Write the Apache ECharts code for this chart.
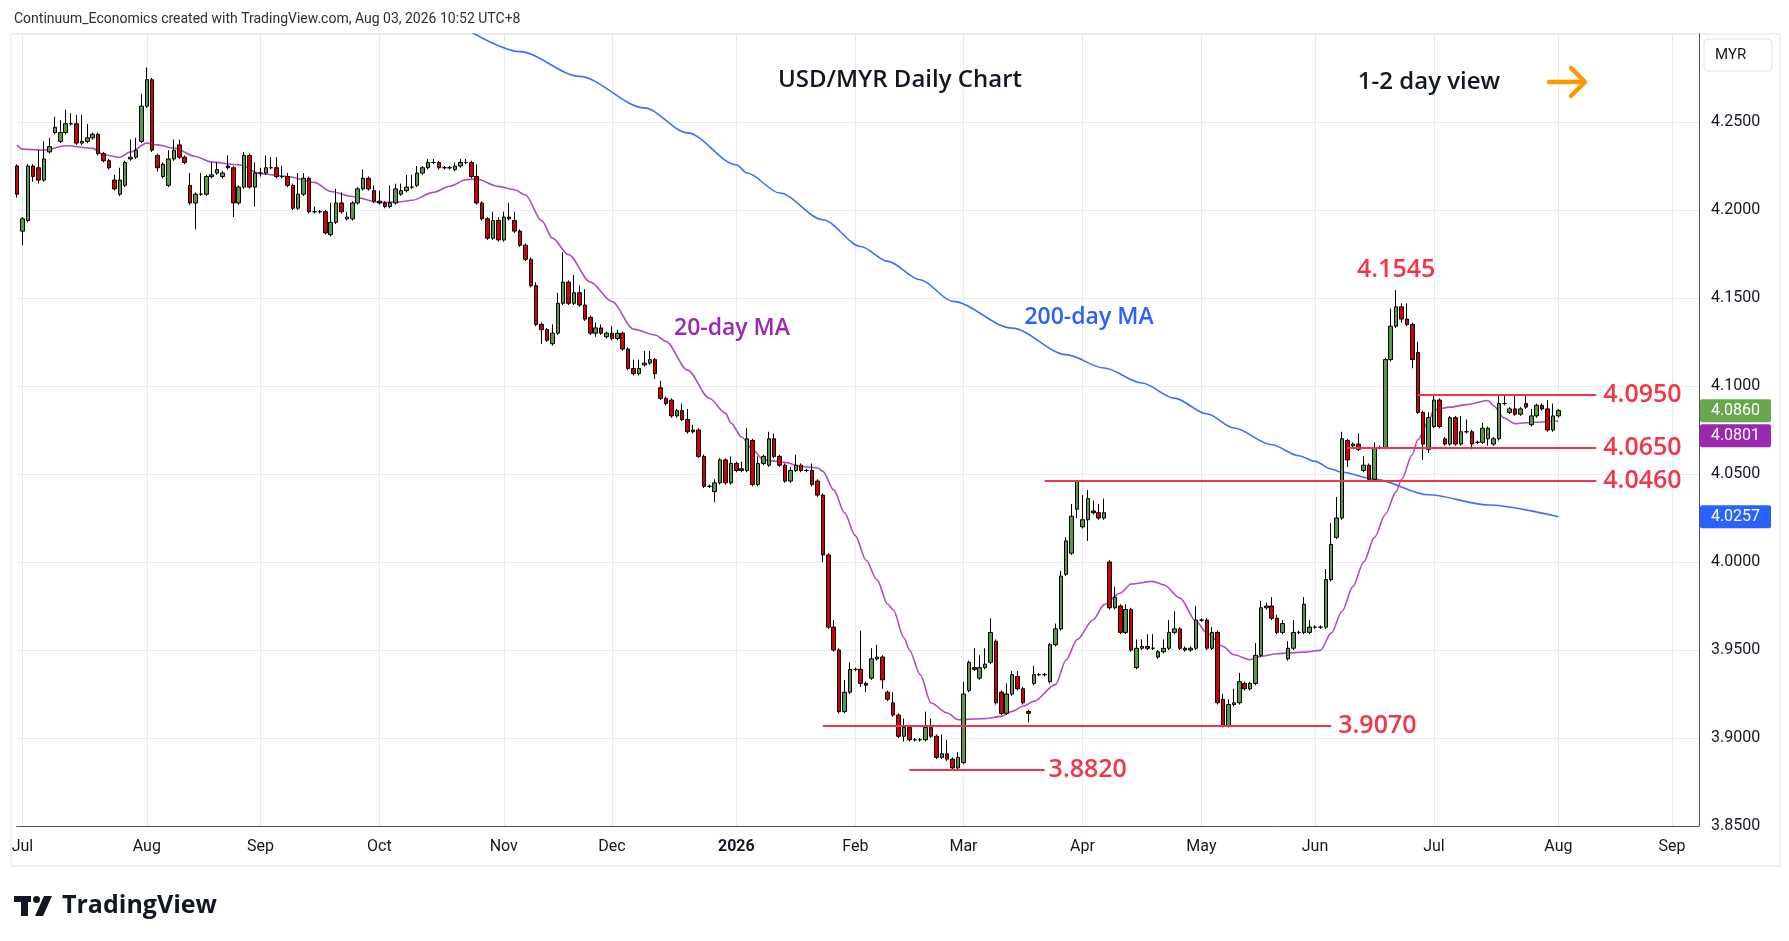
<!DOCTYPE html>
<html>
<head>
<meta charset="utf-8">
<title>USD/MYR Daily Chart</title>
<script src="https://cdn.jsdelivr.net/npm/echarts@6/dist/echarts.min.js"></script>
<style>
  html, body { margin: 0; padding: 0; background: #ffffff; }
  #main { width: 1789px; height: 941px; }
</style>
</head>
<body>
<div id="main"></div>
<script>
// daily candles, 30 Jun 2025 .. 3 Aug 2026 (weekdays)
var opens = [
  4.225,4.188,4.194,4.225,4.224,4.217,4.233,4.244,4.239,4.244,
  4.249,4.249,4.238,4.239,4.241,4.243,4.232,4.228,4.217,4.209,
  4.214,4.229,4.230,4.239,4.259,4.274,4.231,4.219,4.214,4.229,
  4.237,4.230,4.214,4.204,4.209,4.209,4.219,4.221,4.219,4.225,
  4.224,4.204,4.213,4.231,4.213,4.221,4.221,4.224,4.224,4.219,
  4.219,4.214,4.201,4.209,4.218,4.199,4.199,4.199,4.186,4.193,
  4.204,4.195,4.195,4.204,4.212,4.218,4.211,4.205,4.204,4.202,
  4.204,4.209,4.211,4.213,4.214,4.221,4.224,4.227,4.227,4.224,
  4.224,4.223,4.225,4.227,4.227,4.219,4.204,4.195,4.184,4.194,
  4.183,4.196,4.194,4.188,4.180,4.172,4.157,4.135,4.132,4.124,
  4.130,4.147,4.159,4.147,4.153,4.146,4.139,4.130,4.133,4.128,
  4.130,4.127,4.130,4.121,4.110,4.107,4.112,4.113,4.115,4.099,
  4.093,4.092,4.083,4.086,4.081,4.074,4.075,4.060,4.043,4.040,
  4.045,4.058,4.045,4.056,4.053,4.052,4.069,4.044,4.056,4.055,
  4.070,4.060,4.055,4.046,4.052,4.055,4.052,4.052,4.046,4.038,
  4.004,3.963,3.950,3.915,3.926,3.939,3.939,3.931,3.934,3.945,
  3.946,3.926,3.920,3.913,3.901,3.906,3.899,3.899,3.899,3.906,
  3.901,3.889,3.891,3.888,3.883,3.886,3.927,3.940,3.934,3.940,
  3.943,3.955,3.926,3.914,3.925,3.935,3.928,3.915,3.931,3.936,
  3.936,3.932,3.953,3.962,3.993,4.005,4.030,4.020,4.024,4.029,
  4.028,4.025,4.000,3.974,3.975,3.960,3.973,3.940,3.951,3.952,
  3.951,3.946,3.949,3.951,3.960,3.962,3.951,3.950,3.951,3.967,
  3.967,3.951,3.960,3.922,3.907,3.919,3.920,3.931,3.928,3.931,
  3.947,3.974,3.975,3.968,3.960,3.945,3.951,3.960,3.960,3.960,
  3.963,3.963,3.963,3.990,4.014,4.025,4.069,4.066,4.067,4.052,
  4.055,4.047,4.065,4.065,4.115,4.134,4.145,4.138,4.135,4.119,
  4.085,4.064,4.077,4.092,4.070,4.067,4.082,4.067,4.074,4.074,
  4.068,4.068,4.070,4.067,4.070,4.090,4.085,4.087,4.084,4.090,
  4.078,4.083,4.089,4.087,4.075,4.083
];
var closes = [
  4.209,4.195,4.225,4.219,4.217,4.229,4.236,4.247,4.244,4.249,
  4.249,4.238,4.239,4.241,4.243,4.232,4.228,4.224,4.212,4.217,
  4.227,4.230,4.234,4.259,4.274,4.234,4.224,4.226,4.229,4.234,
  4.230,4.227,4.204,4.209,4.209,4.219,4.220,4.223,4.221,4.224,
  4.204,4.213,4.231,4.213,4.221,4.221,4.224,4.224,4.219,4.219,
  4.214,4.201,4.209,4.218,4.199,4.199,4.199,4.187,4.193,4.204,
  4.199,4.196,4.204,4.212,4.218,4.212,4.205,4.204,4.202,4.204,
  4.212,4.211,4.213,4.213,4.221,4.224,4.227,4.227,4.224,4.224,
  4.224,4.225,4.227,4.227,4.219,4.204,4.195,4.184,4.194,4.183,
  4.196,4.195,4.188,4.180,4.172,4.157,4.135,4.132,4.126,4.130,
  4.147,4.159,4.147,4.153,4.146,4.138,4.130,4.133,4.130,4.130,
  4.127,4.130,4.121,4.110,4.107,4.110,4.113,4.115,4.107,4.093,
  4.090,4.083,4.086,4.081,4.074,4.075,4.060,4.043,4.043,4.045,
  4.058,4.045,4.056,4.052,4.052,4.070,4.044,4.056,4.060,4.070,
  4.060,4.055,4.046,4.052,4.055,4.052,4.052,4.044,4.038,4.004,
  3.963,3.950,3.915,3.926,3.939,3.939,3.931,3.930,3.945,3.946,
  3.933,3.922,3.913,3.901,3.906,3.899,3.899,3.899,3.906,3.901,
  3.889,3.891,3.888,3.883,3.889,3.925,3.943,3.939,3.940,3.942,
  3.960,3.920,3.914,3.925,3.936,3.928,3.920,3.914,3.936,3.936,
  3.936,3.953,3.962,3.992,4.012,4.026,4.046,4.024,4.036,4.028,
  4.025,4.028,3.974,3.980,3.960,3.973,3.950,3.951,3.952,3.951,
  3.951,3.949,3.951,3.960,3.962,3.951,3.950,3.951,3.967,3.967,
  3.951,3.960,3.920,3.907,3.919,3.920,3.932,3.928,3.931,3.947,
  3.974,3.975,3.968,3.960,3.965,3.951,3.960,3.960,3.976,3.963,
  3.963,3.963,3.990,4.010,4.025,4.070,4.058,4.067,4.064,4.055,
  4.047,4.065,4.065,4.115,4.134,4.145,4.138,4.135,4.115,4.085,
  4.067,4.082,4.092,4.077,4.067,4.082,4.067,4.074,4.074,4.067,
  4.068,4.076,4.076,4.070,4.090,4.090,4.087,4.084,4.087,4.088,
  4.083,4.089,4.087,4.075,4.083,4.086
];
var lows = [
  4.207,4.180,4.193,4.216,4.215,4.216,4.232,4.243,4.238,4.243,
  4.248,4.237,4.237,4.238,4.240,4.231,4.227,4.223,4.211,4.208,
  4.213,4.228,4.229,4.238,4.258,4.233,4.222,4.218,4.213,4.228,
  4.229,4.226,4.203,4.189,4.208,4.208,4.218,4.220,4.218,4.223,
  4.196,4.203,4.212,4.212,4.202,4.219,4.220,4.223,4.218,4.218,
  4.213,4.200,4.200,4.208,4.198,4.198,4.198,4.186,4.185,4.192,
  4.198,4.194,4.194,4.203,4.211,4.211,4.204,4.203,4.201,4.201,
  4.203,4.208,4.210,4.212,4.213,4.220,4.223,4.226,4.223,4.223,
  4.223,4.222,4.224,4.226,4.218,4.203,4.194,4.183,4.183,4.182,
  4.182,4.194,4.187,4.179,4.171,4.156,4.134,4.124,4.125,4.123,
  4.129,4.146,4.146,4.146,4.145,4.137,4.129,4.128,4.129,4.127,
  4.126,4.126,4.120,4.109,4.106,4.106,4.111,4.112,4.104,4.092,
  4.089,4.082,4.082,4.080,4.073,4.073,4.059,4.042,4.042,4.034,
  4.044,4.044,4.044,4.051,4.051,4.051,4.043,4.043,4.055,4.054,
  4.059,4.054,4.045,4.045,4.051,4.051,4.051,4.043,4.037,4.000,
  3.962,3.949,3.914,3.914,3.925,3.938,3.929,3.926,3.933,3.944,
  3.928,3.921,3.912,3.900,3.898,3.898,3.898,3.898,3.898,3.900,
  3.888,3.888,3.887,3.882,3.882,3.885,3.926,3.938,3.933,3.939,
  3.942,3.919,3.913,3.913,3.924,3.927,3.919,3.909,3.930,3.935,
  3.935,3.931,3.952,3.961,3.992,4.004,4.025,4.019,4.012,4.027,
  4.024,4.024,3.973,3.973,3.959,3.959,3.949,3.939,3.950,3.950,
  3.950,3.945,3.948,3.950,3.959,3.950,3.949,3.949,3.950,3.966,
  3.950,3.950,3.919,3.906,3.906,3.918,3.919,3.927,3.927,3.930,
  3.946,3.973,3.967,3.959,3.959,3.944,3.950,3.959,3.959,3.959,
  3.962,3.962,3.962,3.989,4.013,4.024,4.054,4.065,4.063,4.051,
  4.046,4.046,4.064,4.064,4.114,4.133,4.136,4.134,4.110,4.084,
  4.058,4.062,4.076,4.076,4.066,4.066,4.066,4.066,4.073,4.064,
  4.067,4.067,4.066,4.066,4.069,4.089,4.084,4.083,4.083,4.087,
  4.077,4.082,4.086,4.074,4.074,4.082
];
var highs = [
  4.226,4.196,4.226,4.226,4.234,4.239,4.241,4.253,4.251,4.257,
  4.255,4.254,4.254,4.249,4.244,4.244,4.233,4.229,4.220,4.224,
  4.228,4.240,4.241,4.266,4.281,4.275,4.232,4.227,4.234,4.240,
  4.240,4.231,4.221,4.210,4.221,4.220,4.227,4.227,4.222,4.231,
  4.225,4.214,4.233,4.232,4.227,4.224,4.231,4.230,4.230,4.225,
  4.221,4.215,4.221,4.221,4.219,4.202,4.200,4.200,4.204,4.212,
  4.210,4.199,4.205,4.213,4.223,4.219,4.214,4.211,4.205,4.214,
  4.215,4.215,4.220,4.220,4.225,4.225,4.229,4.229,4.228,4.225,
  4.225,4.227,4.229,4.229,4.228,4.226,4.205,4.196,4.199,4.196,
  4.199,4.204,4.199,4.189,4.181,4.173,4.159,4.136,4.133,4.135,
  4.153,4.176,4.160,4.163,4.157,4.155,4.140,4.136,4.135,4.131,
  4.134,4.132,4.131,4.122,4.115,4.115,4.120,4.120,4.116,4.103,
  4.094,4.093,4.087,4.090,4.087,4.078,4.076,4.061,4.044,4.047,
  4.059,4.059,4.060,4.057,4.057,4.076,4.070,4.060,4.061,4.074,
  4.073,4.061,4.056,4.054,4.061,4.056,4.053,4.056,4.047,4.039,
  4.005,3.967,3.951,3.933,3.943,3.940,3.961,3.932,3.951,3.953,
  3.947,3.927,3.926,3.914,3.911,3.907,3.900,3.900,3.915,3.911,
  3.902,3.902,3.899,3.889,3.892,3.932,3.944,3.951,3.947,3.951,
  3.968,3.956,3.927,3.931,3.938,3.938,3.929,3.916,3.941,3.937,
  3.937,3.954,3.965,3.995,4.014,4.033,4.046,4.038,4.041,4.035,
  4.033,4.036,4.001,3.986,3.976,3.976,3.974,3.956,3.956,3.959,
  3.959,3.950,3.956,3.967,3.972,3.963,3.952,3.952,3.975,3.968,
  3.968,3.963,3.961,3.925,3.922,3.928,3.937,3.932,3.932,3.954,
  3.978,3.977,3.980,3.970,3.967,3.955,3.967,3.961,3.980,3.967,
  3.964,3.964,3.996,4.022,4.037,4.074,4.070,4.068,4.073,4.060,
  4.056,4.068,4.066,4.116,4.144,4.1545,4.147,4.147,4.136,4.125,
  4.086,4.085,4.095,4.093,4.071,4.083,4.083,4.083,4.081,4.075,
  4.069,4.079,4.077,4.071,4.095,4.095,4.088,4.095,4.088,4.095,
  4.087,4.090,4.090,4.092,4.090,4.087
];

// moving averages (bar index, value)
var ma20Idx = [0,1,5,9,14,16,19,21,24,26,29,33,36,41,45,50,55,58,62,67,71,73,77,80,83,85,89,92,94,97,
  99,102,106,110,114,118,120,124,128,131,132,134,136,138,142,145,148,149,151,153,155,157,159,161,162,164,165,167,169,172,
  174,177,179,182,184,186,188,192,194,196,199,201,204,206,210,212,215,218,220,223,225,228,230,233,238,241,243,245,247,249,
  251,253,255,256,258,259,261,262,265,268,272,273,275,277,280,285];
var ma20Val = [4.237,4.2346,4.234,4.2365,4.235,4.2314,4.230,4.233,4.238,4.237,4.2352,4.2304,4.2272,4.2257,4.2206,4.219,4.2157,4.2105,4.2077,4.2043,4.2047,4.2055,4.210,4.2135,4.2172,4.2176,4.2134,4.2115,4.2085,4.194,
  4.184,4.1746,4.159,4.148,4.1323,4.129,4.1253,4.109,4.093,4.0846,4.079,4.071,4.064,4.058,4.0566,4.0543,4.0534,4.0515,4.041,4.028,4.015,4.001,3.990,3.976,3.9729,3.957,3.950,3.936,3.9199,3.9142,
  3.9104,3.9108,3.911,3.9123,3.9151,3.918,3.9208,3.9303,3.9445,3.9559,3.9672,3.9758,3.9824,3.9875,3.989,3.9871,3.9796,3.9663,3.9596,3.952,3.9473,3.9445,3.9464,3.9479,3.9488,3.9498,3.9596,3.972,3.986,4.000,
  4.014,4.027,4.040,4.047,4.061,4.0695,4.080,4.0865,4.088,4.0894,4.0918,4.0888,4.0818,4.0786,4.0793,4.0801];
var ma200Idx = [84,93,104,116,124,133,135,141,149,156,161,167,173,184,194,201,208,214,220,225,232,237,240,243,245,251,261,272,285];
var ma200Val = [4.3010,4.290,4.2759,4.258,4.2438,4.2257,4.221,4.2097,4.1945,4.1793,4.1708,4.1604,4.1481,4.1329,4.1178,4.1102,4.1017,4.0931,4.0842,4.0761,4.0666,4.0604,4.0572,4.0528,4.051,4.0471,4.0382,4.0324,4.0257];

// horizontal levels (value, first bar, last bar)
var levelValues = [4.0950, 4.0650, 4.0460, 3.9070, 3.8820];
var levelFrom = [259, 246, 190, 149, 165];
var levelTo = [292, 292, 292, 243, 190];
var peakValue = 4.1545, peakIdx = 255;

var monthNames = ['Jan','Feb','Mar','Apr','May','Jun','Jul','Aug','Sep','Oct','Nov','Dec'];

// weekday categories, extended past the last bar
var dates = [];
(function () {
  var d = new Date(Date.UTC(2025, 5, 30));
  while (dates.length < 312) {
    var wd = d.getUTCDay();
    if (wd !== 0 && wd !== 6) dates.push(d.toISOString().slice(0, 10));
    d.setUTCDate(d.getUTCDate() + 1);
  }
})();
var monthStart = {};
for (var i = 1; i < dates.length; i++) {
  if (dates[i].slice(5, 7) !== dates[i - 1].slice(5, 7)) monthStart[i] = true;
}

var candles = [];
for (var k = 0; k < opens.length; k++) {
  candles.push([opens[k], closes[k], lows[k], highs[k]]);
}
function pairs(idx, val) {
  var out = [];
  for (var j = 0; j < idx.length; j++) out.push([idx[j], val[j]]);
  return out;
}

var RED = '#f23645';
var FONT = '"Open Sans", "Noto Sans", sans-serif';
var levelLines = levelValues.map(function (v, n) {
  return [
    { coord: [levelFrom[n], v],
      label: { show: true, position: 'end', distance: n === 4 ? 4 : 7,
        formatter: v.toFixed(4), color: RED, fontSize: 25, fontWeight: 600, fontFamily: FONT,
        padding: n === 4 ? [0, 0, 20, 0] : 0 } },
    { coord: [levelTo[n], v] }
  ];
});

var chart = echarts.init(document.getElementById('main'));
var option = {
  animation: false,
  backgroundColor: '#ffffff',
  grid: { left: 17, right: 90, top: 34, bottom: 115, containLabel: false },
  xAxis: {
    type: 'category',
    data: dates,
    boundaryGap: false,
    axisLine: { show: true, lineStyle: { color: '#50535e', width: 1 } },
    axisTick: { show: false },
    axisLabel: {
      interval: function (index) { return !!monthStart[index]; },
      formatter: function (value) {
        var m = parseInt(value.slice(5, 7), 10) - 1;
        return m === 0 ? '{b|' + value.slice(0, 4) + '}' : monthNames[m];
      },
      color: '#131722', fontSize: 16, fontFamily: 'Roboto, sans-serif', margin: 13,
      rich: { b: { fontWeight: 'bold', fontSize: 16, color: '#131722', fontFamily: 'Roboto, sans-serif' } }
    },
    splitLine: {
      show: true,
      interval: function (index) { return !!monthStart[index]; },
      lineStyle: { color: '#e6ecf2', width: 1 }
    }
  },
  yAxis: {
    type: 'value',
    position: 'right',
    min: 3.85, max: 4.30, interval: 0.05,
    axisLine: { show: true, lineStyle: { color: '#50535e', width: 1 } },
    axisTick: { show: false },
    axisLabel: {
      formatter: function (v) { return Math.abs(v - 4.30) < 1e-6 ? '' : v.toFixed(4); },
      color: '#131722', fontSize: 16, fontFamily: 'Roboto, sans-serif', margin: 12
    },
    splitLine: { show: true, lineStyle: { color: '#e6ecf2', width: 1 } }
  },
  series: [
    {
      name: '200-day MA', type: 'line', data: pairs(ma200Idx, ma200Val),
      smooth: 0.3, smoothMonotone: 'x', showSymbol: false, symbol: 'none',
      lineStyle: { color: '#3a72ff', width: 1.6 }, z: 3, silent: true
    },
    {
      name: '20-day MA', type: 'line', data: pairs(ma20Idx, ma20Val),
      smooth: 0.3, smoothMonotone: 'x', showSymbol: false, symbol: 'none',
      lineStyle: { color: '#b04cc4', width: 1.6 }, z: 3, silent: true
    },
    {
      name: 'USD/MYR', type: 'candlestick', data: candles,
      barWidth: 4, z: 4,
      itemStyle: {
        color: '#5b9a44', color0: '#d40000',
        borderColor: '#000000', borderColor0: '#000000', borderColorDoji: '#000000',
        borderWidth: 1
      },
      markLine: {
        silent: true, symbol: ['none', 'none'], animation: false,
        lineStyle: { color: RED, width: 2, type: 'solid' },
        data: levelLines
      },
      markPoint: {
        silent: true, animation: false,
        data: [{
          coord: [peakIdx, peakValue], symbol: 'circle', symbolSize: 0,
          label: { show: true, position: 'top', distance: 8, formatter: peakValue.toFixed(4),
            color: RED, fontSize: 25, fontWeight: 600, fontFamily: FONT }
        }]
      }
    }
  ]
};
chart.setOption(option);

// overlay text, frame and price tags
var g = [];
g.push({ type: 'rect', shape: { x: 11, y: 34, width: 1769, height: 832 }, style: { fill: 'none', stroke: '#e0e3eb', lineWidth: 1 }, silent: true, z: 0 });
g.push({ type: 'text', x: 14, y: 19, style: { text: 'Continuum_Economics created with TradingView.com, Aug 03, 2026 10:52 UTC+8', font: '14px Roboto, sans-serif', fill: '#2a2e39', textAlign: 'left', textVerticalAlign: 'middle', align: 'left', verticalAlign: 'middle' }, silent: true });
g.push({ type: 'text', x: 900, y: 80, style: { text: 'USD/MYR Daily Chart', font: '600 24px ' + FONT, fill: '#131722', textAlign: 'center', textVerticalAlign: 'middle', align: 'center', verticalAlign: 'middle' }, silent: true });
g.push({ type: 'text', x: 1429, y: 82, style: { text: '1-2 day view', font: '600 24px ' + FONT, fill: '#131722', textAlign: 'center', textVerticalAlign: 'middle', align: 'center', verticalAlign: 'middle' }, silent: true });
g.push({ type: 'polyline', shape: { points: [[1549, 82], [1584, 82]] }, style: { stroke: '#ff9800', lineWidth: 4.5, lineCap: 'round', fill: 'none' }, silent: true });
g.push({ type: 'polyline', shape: { points: [[1571, 68], [1585, 82], [1571, 96]] }, style: { stroke: '#ff9800', lineWidth: 4.5, lineCap: 'round', lineJoin: 'round', fill: 'none' }, silent: true });
g.push({ type: 'text', x: 732, y: 328, style: { text: '20-day MA', font: '600 23px ' + FONT, fill: '#9c27b0', textAlign: 'center', textVerticalAlign: 'middle', align: 'center', verticalAlign: 'middle' }, silent: true });
g.push({ type: 'text', x: 1089, y: 317, style: { text: '200-day MA', font: '600 23px ' + FONT, fill: '#2962ff', textAlign: 'center', textVerticalAlign: 'middle', align: 'center', verticalAlign: 'middle' }, silent: true });
// currency box on price scale
g.push({ type: 'rect', shape: { x: 1704, y: 39, width: 68, height: 32, r: 4 }, style: { fill: '#ffffff', stroke: '#e0e3eb', lineWidth: 1 }, silent: true });
g.push({ type: 'text', x: 1715, y: 55, style: { text: 'MYR', font: '15px Roboto, sans-serif', fill: '#131722', textAlign: 'left', textVerticalAlign: 'middle', align: 'left', verticalAlign: 'middle' }, silent: true });
// TradingView mark
g.push({ type: 'rect', shape: { x: 14, y: 896, width: 17, height: 6 }, style: { fill: '#131722' }, silent: true });
g.push({ type: 'rect', shape: { x: 21, y: 896, width: 7, height: 20 }, style: { fill: '#131722' }, silent: true });
g.push({ type: 'circle', shape: { cx: 36.5, cy: 899.5, r: 3.5 }, style: { fill: '#131722' }, silent: true });
g.push({ type: 'polygon', shape: { points: [[44, 896], [52, 896], [43, 916], [35, 916]] }, style: { fill: '#131722' }, silent: true });
g.push({ type: 'text', x: 62, y: 906, style: { text: 'TradingView', font: 'bold 25px ' + FONT, fill: '#131722', textAlign: 'left', textVerticalAlign: 'middle', align: 'left', verticalAlign: 'middle' }, silent: true });

var tags = [
  { v: closes[closes.length - 1], c: '#68a74e' },
  { v: ma20Val[ma20Val.length - 1], c: '#9c27b0' },
  { v: ma200Val[ma200Val.length - 1], c: '#2962ff' }
];
tags.forEach(function (t) { t.y = chart.convertToPixel({ yAxisIndex: 0 }, t.v); });
tags.sort(function (a, b) { return a.y - b.y; });
for (var q = 1; q < tags.length; q++) {
  if (tags[q].y < tags[q - 1].y + 25) tags[q].y = tags[q - 1].y + 25;
}
tags.forEach(function (t) {
  g.push({ type: 'rect', shape: { x: 1700, y: t.y - 11.5, width: 71, height: 23, r: 2 }, style: { fill: t.c }, silent: true, z: 10 });
  g.push({ type: 'text', x: 1735.5, y: t.y, style: { text: t.v.toFixed(4), font: '16px Roboto, sans-serif', fill: '#ffffff', textAlign: 'center', textVerticalAlign: 'middle', align: 'center', verticalAlign: 'middle' }, silent: true, z: 11 });
});

chart.setOption({ graphic: { elements: g } });
</script>
</body>
</html>
